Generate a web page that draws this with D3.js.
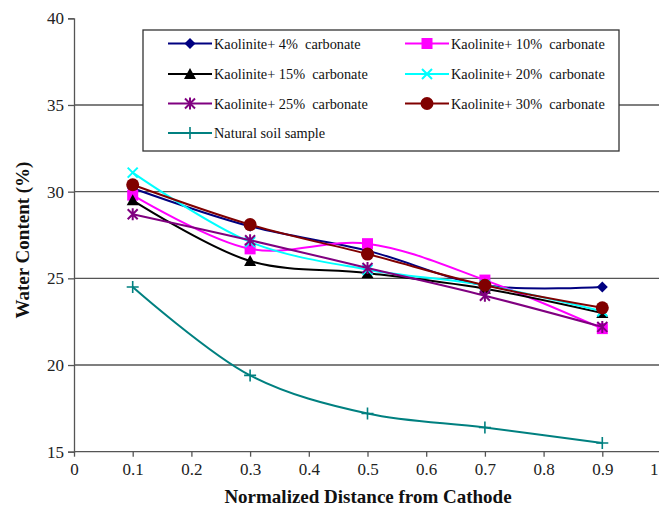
<!DOCTYPE html>
<html>
<head>
<meta charset="utf-8">
<script src="https://cdn.jsdelivr.net/npm/d3@7"></script>
<style>
  html, body { margin: 0; padding: 0; background: #fff; }
</style>
</head>
<body>
<svg id="chart" width="659" height="508"></svg>
<script>
// Normalized distance from the cathode at each sampling point
const distances = [0.1, 0.3, 0.5, 0.7, 0.9];

// Water content (%) for each soil mix
const kaol4 = [30.2, 28.0, 26.6, 24.6, 24.5];
const kaol10 = [29.8, 26.7, 27.0, 24.9, 22.1];
const kaol15 = [29.5, 26.0, 25.3, 24.4, 23.0];
const kaol20 = [31.1, 27.1, 25.5, 24.6, 23.1];
const kaol25 = [28.7, 27.2, 25.6, 24.0, 22.2];
const kaol30 = [30.4, 28.1, 26.4, 24.6, 23.3];
const natural = [24.5, 19.4, 17.2, 16.4, 15.5];

const seriesNames = [
  "Kaolinite+ 4%  carbonate",
  "Kaolinite+ 10%  carbonate",
  "Kaolinite+ 15%  carbonate",
  "Kaolinite+ 20%  carbonate",
  "Kaolinite+ 25%  carbonate",
  "Kaolinite+ 30%  carbonate",
  "Natural soil sample"
];
const seriesValues = [kaol4, kaol10, kaol15, kaol20, kaol25, kaol30, natural];
const seriesColors = ["#000080", "#ff00ff", "#000000", "#00ffff", "#800080", "#800000", "#008080"];
const seriesMarkers = ["diamond", "square", "triangle", "cross", "star", "circle", "plus"];

const xTicks = [0, 0.1, 0.2, 0.3, 0.4, 0.5, 0.6, 0.7, 0.8, 0.9, 1];
const yTicks = [15, 20, 25, 30, 35, 40];
const gridValues = [20, 25, 30, 35];

const FONT = "Liberation Serif";

const svg = d3.select("#chart");
const W = 659, H = 508;

const x = d3.scaleLinear().domain([0, 1]).range([74, 661]);
const y = d3.scaleLinear().domain([15, 40]).range([451.7, 18.3]);

const axisColor = "#555";

// horizontal gridlines
svg.append("g").selectAll("line").data(gridValues).join("line")
  .attr("x1", x(0)).attr("x2", W)
  .attr("y1", d => y(d)).attr("y2", d => y(d))
  .attr("stroke", axisColor).attr("stroke-width", 1.3);

// y axis
const yAxis = svg.append("g")
  .attr("transform", `translate(${x(0)},0)`)
  .call(d3.axisLeft(y).tickValues(yTicks).tickSize(6).tickPadding(4).tickFormat(d3.format("d")));
yAxis.select(".domain").attr("stroke", axisColor).attr("stroke-width", 1.3);
yAxis.selectAll(".tick line").attr("stroke", axisColor).attr("stroke-width", 1.3);
yAxis.selectAll(".tick text").style("font-family", FONT).style("font-size", "17px").attr("fill", "#222");

// x axis
const xAxis = svg.append("g")
  .attr("transform", `translate(0,${y(15)})`)
  .call(d3.axisBottom(x).tickValues(xTicks).tickSize(5).tickPadding(6)
    .tickFormat(d => d === 0 || d === 1 ? d3.format("d")(d) : d3.format(".1f")(d)));
xAxis.select(".domain").remove();
xAxis.append("line").attr("x1", x(0)).attr("x2", W).attr("y1", 0).attr("y2", 0)
  .attr("stroke", axisColor).attr("stroke-width", 1.3);
xAxis.selectAll(".tick line").attr("stroke", axisColor).attr("stroke-width", 1.3);
xAxis.selectAll(".tick text").style("font-family", FONT).style("font-size", "17px").attr("fill", "#222");
// the last label sits at the right edge of the frame
xAxis.selectAll(".tick text").filter(d => d === 1)
  .attr("text-anchor", "end").attr("dx", -3);

// axis titles
svg.append("text")
  .attr("x", 368).attr("y", 503)
  .attr("text-anchor", "middle")
  .style("font-family", FONT).style("font-size", "19px").style("font-weight", "bold")
  .attr("fill", "#111")
  .text("Normalized Distance from Cathode");

svg.append("text")
  .attr("transform", "translate(29,240) rotate(-90)")
  .attr("text-anchor", "middle")
  .style("font-family", FONT).style("font-size", "19px").style("font-weight", "bold")
  .attr("fill", "#111")
  .text("Water Content (%)");

// marker drawing
function drawMarker(g, type, color, cx, cy) {
  switch (type) {
    case "diamond":
      g.append("path").attr("d", `M${cx},${cy - 5.5}L${cx + 5.5},${cy}L${cx},${cy + 5.5}L${cx - 5.5},${cy}Z`)
        .attr("fill", color);
      break;
    case "square":
      g.append("rect").attr("x", cx - 5.5).attr("y", cy - 5.5).attr("width", 11).attr("height", 11)
        .attr("fill", color);
      break;
    case "triangle":
      g.append("path").attr("d", `M${cx},${cy - 6}L${cx + 6},${cy + 5}L${cx - 6},${cy + 5}Z`)
        .attr("fill", color);
      break;
    case "cross":
      g.append("path").attr("d", `M${cx - 5},${cy - 5}L${cx + 5},${cy + 5}M${cx + 5},${cy - 5}L${cx - 5},${cy + 5}`)
        .attr("stroke", color).attr("stroke-width", 2).attr("fill", "none");
      break;
    case "star":
      g.append("path").attr("d", `M${cx - 5},${cy - 5}L${cx + 5},${cy + 5}M${cx + 5},${cy - 5}L${cx - 5},${cy + 5}M${cx},${cy - 6}L${cx},${cy + 6}`)
        .attr("stroke", color).attr("stroke-width", 2).attr("fill", "none");
      break;
    case "circle":
      g.append("circle").attr("cx", cx).attr("cy", cy).attr("r", 6.5).attr("fill", color);
      break;
    case "plus":
      g.append("path").attr("d", `M${cx - 6},${cy}L${cx + 6},${cy}M${cx},${cy - 6}L${cx},${cy + 6}`)
        .attr("stroke", color).attr("stroke-width", 1.6).attr("fill", "none");
      break;
  }
}

// smoothed series lines with markers
const line = d3.line()
  .x(d => x(d[0]))
  .y(d => y(d[1]))
  .curve(d3.curveCatmullRom.alpha(0.5));

const plot = svg.append("g");
seriesValues.forEach((vals, i) => {
  const pts = distances.map((d, j) => [d, vals[j]]);
  const g = plot.append("g");
  g.append("path").datum(pts)
    .attr("d", line)
    .attr("fill", "none")
    .attr("stroke", seriesColors[i])
    .attr("stroke-width", 2);
  pts.forEach(p => drawMarker(g, seriesMarkers[i], seriesColors[i], x(p[0]), y(p[1])));
});

// legend
const legend = svg.append("g");
legend.append("rect")
  .attr("x", 143).attr("y", 30).attr("width", 476).attr("height", 121)
  .attr("fill", "#fff").attr("stroke", "#333").attr("stroke-width", 1.3);

const colX = [168, 405];
const rowY = [43.5, 74, 103.5, 133];
seriesNames.forEach((name, i) => {
  const cx = colX[i % 2], cy = rowY[Math.floor(i / 2)];
  const g = legend.append("g");
  g.append("line").attr("x1", cx).attr("x2", cx + 44).attr("y1", cy).attr("y2", cy)
    .attr("stroke", seriesColors[i]).attr("stroke-width", 2);
  drawMarker(g, seriesMarkers[i], seriesColors[i], cx + 22, cy);
  g.append("text").attr("x", cx + 46).attr("y", cy + 5)
    .style("font-family", FONT).style("font-size", "14.3px").style("white-space", "pre")
    .attr("fill", "#111")
    .text(name);
});
</script>
</body>
</html>
